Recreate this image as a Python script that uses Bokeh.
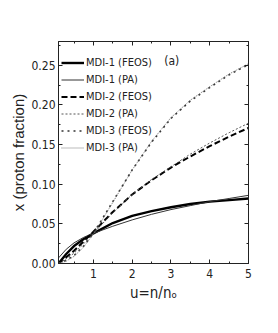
import math
from bokeh.plotting import figure
from bokeh.models import (Range1d, LinearAxis, Label, Legend, LegendItem,
                          FixedTicker, PrintfTickFormatter)
from bokeh.embed import file_html
from bokeh.resources import INLINE

# ---- data ----
u1 = [0.1, 0.3, 0.5, 0.75, 1.0, 1.5, 2.0, 2.5, 3.0, 3.5, 4.0, 4.5, 5.0]
mdi1_feos = [0.000, 0.012, 0.022, 0.031, 0.038, 0.051, 0.060, 0.066, 0.071, 0.075, 0.078, 0.080, 0.082]
mdi1_pa   = [0.007, 0.018, 0.026, 0.033, 0.038, 0.047, 0.055, 0.062, 0.068, 0.073, 0.078, 0.082, 0.086]

u2 = [0.1, 0.3, 0.5, 0.75, 1.0, 1.5, 2.0, 2.5, 3.0, 3.5, 4.0, 4.5, 5.0]
mdi2_feos = [0.000, 0.008, 0.016, 0.028, 0.040, 0.065, 0.087, 0.105, 0.121, 0.135, 0.148, 0.160, 0.171]
mdi2_pa   = [0.000, 0.006, 0.013, 0.025, 0.038, 0.064, 0.087, 0.106, 0.122, 0.138, 0.152, 0.165, 0.177]

u3 = [0.1, 0.3, 0.5, 0.75, 1.0, 1.5, 2.0, 2.5, 3.0, 3.5, 4.0, 4.5, 5.0]
mdi3_feos = [0.000, 0.004, 0.010, 0.022, 0.038, 0.078, 0.118, 0.153, 0.183, 0.205, 0.222, 0.238, 0.251]
mdi3_pa   = [0.000, 0.003, 0.009, 0.021, 0.037, 0.077, 0.118, 0.154, 0.184, 0.206, 0.223, 0.239, 0.252]

x_ticks = [1, 2, 3, 4, 5]
x_minor = [0.5, 1.5, 2.5, 3.5, 4.5]
y_ticks = [0.00, 0.05, 0.10, 0.15, 0.20, 0.25]
y_minor = [0.025, 0.075, 0.125, 0.175, 0.225, 0.275]
legend_labels = ["MDI-1 (FEOS)", "MDI-1 (PA)", "MDI-2 (FEOS)",
                 "MDI-2 (PA)", "MDI-3 (FEOS)", "MDI-3 (PA)"]

FONT = "DejaVu Sans Condensed"
INK = "#222222"

p = figure(width=270, height=320, output_backend="svg", toolbar_location=None,
           x_range=Range1d(0.1, 5.0), y_range=Range1d(0.0, 0.28),
           min_border_left=58, min_border_right=22, min_border_top=41,
           min_border_bottom=57)
p.grid.visible = False
p.outline_line_color = INK
p.outline_line_width = 1
p.background_fill_color = "white"
p.border_fill_color = "white"

def style_axis(ax, ticks, minor, show_labels):
    ax.ticker = FixedTicker(ticks=ticks, minor_ticks=minor)
    ax.major_tick_in = 4
    ax.major_tick_out = 0
    ax.minor_tick_in = 2
    ax.minor_tick_out = 0
    ax.axis_line_color = INK
    ax.major_tick_line_color = INK
    ax.minor_tick_line_color = INK
    if show_labels:
        ax.major_label_text_font = FONT
        ax.major_label_text_font_size = "12px"
        ax.major_label_text_color = INK
        ax.major_label_standoff = 3
    else:
        ax.major_label_overrides = {t: "" for t in ticks}
        ax.major_label_standoff = 0

style_axis(p.xaxis[0], x_ticks, x_minor, True)
style_axis(p.yaxis[0], y_ticks, y_minor, True)
p.xaxis[0].major_label_standoff = 5
p.yaxis[0].formatter = PrintfTickFormatter(format="%.2f")

p.yaxis[0].axis_label = "x (proton fraction)"
p.yaxis[0].axis_label_text_font = "Liberation Sans"
p.yaxis[0].axis_label_text_font_size = "15px"
p.yaxis[0].axis_label_text_font_style = "normal"
p.yaxis[0].axis_label_text_color = INK
p.yaxis[0].axis_label_standoff = 1

p.xaxis[0].axis_label = "u=n/n\u2092"
p.xaxis[0].axis_label_text_font = FONT
p.xaxis[0].axis_label_text_font_size = "15px"
p.xaxis[0].axis_label_text_font_style = "normal"
p.xaxis[0].axis_label_text_color = INK
p.xaxis[0].axis_label_standoff = 3

top = LinearAxis()
right = LinearAxis()
style_axis(top, x_ticks, x_minor, False)
style_axis(right, y_ticks, y_minor, False)
p.add_layout(top, "above")
p.add_layout(right, "right")

r1 = p.line(u1, mdi1_feos, line_color="black", line_width=2.4)
r2 = p.line(u1, mdi1_pa, line_color="#333333", line_width=1)
r3 = p.line(u2, mdi2_feos, line_color="black", line_width=2, line_dash="6 3")
r4 = p.line(u2, mdi2_pa, line_color="#555555", line_width=1, line_dash="2 2")
r5 = p.line(u3, mdi3_feos, line_color="#333333", line_width=1.6, line_dash="2 4")
r6 = p.line(u3, mdi3_pa, line_color="#777777", line_width=1, line_dash="1 1")

rs = [r1, r2, r3, r4, r5, r6]
legend = Legend(items=[LegendItem(label=l, renderers=[r]) for l, r in zip(legend_labels, rs)],
                location=(3, 109), padding=0, margin=0, spacing=4,
                glyph_width=23, glyph_height=13, label_height=13,
                label_standoff=2, border_line_color=None,
                background_fill_alpha=0,
                label_text_font=FONT, label_text_font_size="11px",
                label_text_color=INK)
p.add_layout(legend, "center")

p.add_layout(Label(x=3.02, y=0.256, text="(a)", text_font=FONT,
                   text_font_size="12px", text_align="center",
                   text_baseline="middle", text_color=INK))

open("out.html", "w").write(file_html(p, INLINE))
